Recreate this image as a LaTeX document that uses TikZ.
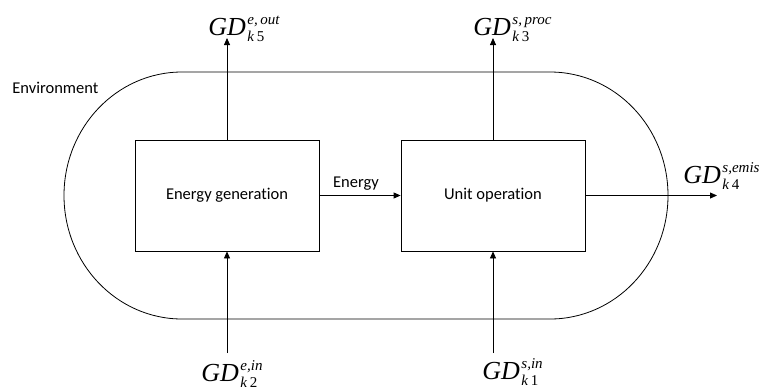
\documentclass[tikz,border=0pt]{standalone}
\usepackage{fontspec}
\setmainfont{Carlito}[Ligatures=NoCommon]
\newfontfamily\tnr{Liberation Serif}
\usetikzlibrary{arrows.meta}
\newcommand\gdlab[2]{{\fontsize{26}{26}\selectfont\tnr\itshape GD}\kern1.5pt\rlap{\raisebox{11pt}{\fontsize{15}{15}\selectfont\tnr\itshape #1}}\raisebox{-6pt}{\fontsize{15}{15}\selectfont\tnr #2}}
\begin{document}
\begin{tikzpicture}[x=1pt,y=-1pt,line width=0.8pt,
  >={Triangle[length=7pt,width=6pt]},
  box/.style={draw,minimum width=184pt,minimum height=111pt,inner sep=0pt,font=\fontsize{16.5}{19}\selectfont},
  flow/.style={->},
  gdl/.style={anchor=base west,inner sep=0pt},
  plain/.style={font=\fontsize{16.5}{19}\selectfont,inner sep=0pt}]
\useasboundingbox (0,0) rectangle (760,389);
% environment boundary
\draw (182,72) -- (550,72)
  arc[start angle=-90,end angle=90,x radius=118,y radius=123.5]
  -- (182,319)
  arc[start angle=90,end angle=270,x radius=118,y radius=123.5] -- cycle;
\node[plain,anchor=base west] (env) at (12,93) {Environment};
% boxes
\node[box] (eg) at (227,195.5) {Energy generation};
\node[box] (uo) at (493,195.5) {Unit operation};
% free ends
\coordinate (t1) at (227,38);
\coordinate (t2) at (493,38);
\coordinate (t3) at (717,195.5);
\coordinate (b1) at (227,353);
\coordinate (b2) at (493,353);
% connectors
\draw[flow] (eg) -- node[plain,above=5pt,pos=0.45] (en) {Energy} (uo);
\draw[flow] (eg.north) -- (t1);
\draw[flow] (uo.north) -- (t2);
\draw[flow] (uo.east) -- (t3);
\draw[flow] (b1) -- (eg.south);
\draw[flow] (b2) -- (uo.south);
% labels
\node[gdl] (l5) at (208,35) {\gdlab{e,\,out}{\textit{k}\,5}};
\node[gdl] (l3) at (473,35) {\gdlab{s,\,proc}{\textit{k}\,3}};
\node[gdl] (l4) at (683,183) {\gdlab{s,emis}{\textit{k}\,4}};
\node[gdl] (l2) at (201,381) {\gdlab{e,in}{\textit{k}\,2}};
\node[gdl] (l1) at (482,379) {\gdlab{s,in}{\textit{k}\,1}};
\end{tikzpicture}
\end{document}
